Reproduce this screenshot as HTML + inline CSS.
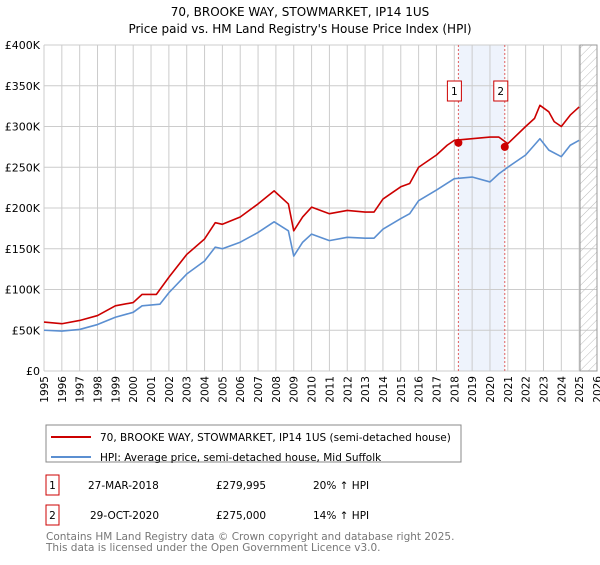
<!DOCTYPE html>
<html><head><meta charset="utf-8">
<style>
body{margin:0;background:#fff;font-family:"Liberation Sans","DejaVu Sans",sans-serif;}
svg text{font-family:"DejaVu Sans","Liberation Sans",sans-serif;}
</style></head>
<body>
<svg id="c" width="600" height="560" xmlns="http://www.w3.org/2000/svg">
<defs><pattern id="hatch" width="6" height="6" patternUnits="userSpaceOnUse" patternTransform="rotate(45)"><line x1="0" y1="0" x2="0" y2="6" stroke="#bbb" stroke-width="1"/></pattern></defs>
<text x="300" y="16" text-anchor="middle" font-size="12">70, BROOKE WAY, STOWMARKET, IP14 1US</text>
<text x="300" y="33" text-anchor="middle" font-size="12">Price paid vs. HM Land Registry's House Price Index (HPI)</text>
<g id="plot"></g>
<rect x="46" y="425" width="415" height="37" fill="#fff" stroke="#888"/>
<line x1="51" y1="437" x2="91" y2="437" stroke="#cc0000" stroke-width="2"/>
<text x="100" y="441" font-size="10.5">70, BROOKE WAY, STOWMARKET, IP14 1US (semi-detached house)</text>
<line x1="51" y1="457" x2="91" y2="457" stroke="#5b8fd1" stroke-width="2"/>
<text x="100" y="461" font-size="10.5">HPI: Average price, semi-detached house, Mid Suffolk</text>
<g>
<rect x="46" y="475" width="13" height="20" fill="#fff" stroke="#cc0000"/>
<text x="52.5" y="489" text-anchor="middle" font-size="10.5">1</text>
<text x="88" y="489" font-size="10.5">27-MAR-2018</text>
<text x="216" y="489" font-size="10.5">£279,995</text>
<text x="313" y="489" font-size="10.5">20% ↑ HPI</text></g>
<g>
<rect x="46" y="505" width="13" height="20" fill="#fff" stroke="#cc0000"/>
<text x="52.5" y="519" text-anchor="middle" font-size="10.5">2</text>
<text x="90" y="519" font-size="10.5">29-OCT-2020</text>
<text x="216" y="519" font-size="10.5">£275,000</text>
<text x="313" y="519" font-size="10.5">14% ↑ HPI</text></g>
<text x="46" y="540" font-size="10.5" fill="#777">Contains HM Land Registry data © Crown copyright and database right 2025.</text>
<text x="46" y="551" font-size="10.5" fill="#777">This data is licensed under the Open Government Licence v3.0.</text>
</svg>
<script>
const priceYears=[1995,1996,1997,1998,1999,2000,2000.5,2001.3,2001.5,2002,2003,2004,2004.6,2005,2006,2007,2007.9,2008.7,2009,2009.5,2010,2011,2012,2013,2013.5,2014,2015,2015.5,2016,2017,2017.6,2018,2019,2020,2020.5,2021,2022,2022.5,2022.8,2023.3,2023.6,2024,2024.5,2025];
const priceValues=[60,58,62,68,80,84,94,94,100,115,143,162,182,180,189,205,221,205,172,189,201,193,197,195,195,211,226,230,250,265,277,283,285,287,287,279,300,310,326,318,306,300,314,324];
const hpiYears=[1995,1996,1997,1998,1999,2000,2000.5,2001.5,2002,2003,2004,2004.6,2005,2006,2007,2007.9,2008.7,2009,2009.5,2010,2011,2012,2013,2013.5,2014,2015,2015.5,2016,2017,2018,2019,2020,2020.5,2021,2022,2022.8,2023.3,2024,2024.5,2025];
const hpiValues=[50,49,51,57,66,72,80,82,96,119,135,152,150,158,170,183,172,141,158,168,160,164,163,163,174,187,193,209,222,236,238,232,242,250,265,285,271,263,277,283];
const saleDates=[2018.23,2020.83];
const saleValues=[279.995,275];
const saleLabels=["1","2"];
const yTicks=[0,50,100,150,200,250,300,350,400];
const yTickLabels=["£0","£50K","£100K","£150K","£200K","£250K","£300K","£350K","£400K"];
const xStart=1995,xEnd=2026,projectionStart=2025.05;

const L=44,R=597,T=45,B=371;
const X=y=>L+(y-xStart)/(xEnd-xStart)*(R-L);
const Y=v=>B-v/400*(B-T);
const NS="http://www.w3.org/2000/svg";
const g=document.getElementById('plot');
function mk(t,a){const e=document.createElementNS(NS,t);for(const k in a)e.setAttribute(k,a[k]);g.appendChild(e);return e;}
let e=mk('rect',{x:L,y:T,width:R-L,height:B-T,fill:'#fff'});


e=mk('rect',{x:X(saleDates[0]),y:T,width:X(saleDates[1])-X(saleDates[0]),height:B-T,fill:'#eef3fc'});


for(let yr=xStart;yr<=xEnd;yr++){
  e=mk('line',{x1:X(yr),x2:X(yr),y1:T,y2:B,stroke:'#ccc','stroke-width':1});
  
  
  e=mk('text',{x:0,y:0,'font-size':'10.5','text-anchor':'end',transform:`translate(${X(yr)+4},${B+5}) rotate(-90)`});
  e.textContent=yr;
  
  
}
yTicks.forEach((v,i)=>{
  e=mk('line',{x1:L,x2:R,y1:Y(v),y2:Y(v),stroke:'#ccc','stroke-width':1});
  
  
  e=mk('text',{x:L-4,y:Y(v)+4,'font-size':'11','text-anchor':'end'});
  e.textContent=yTickLabels[i];
  
  
});
e=mk('rect',{x:X(projectionStart),y:T,width:R-X(projectionStart),height:B-T,fill:'url(#hatch)',stroke:'#999'});


saleDates.forEach((d,i)=>{
  e=mk('line',{x1:X(d),x2:X(d),y1:T,y2:B,stroke:'#e06060','stroke-dasharray':'2,2','stroke-width':1});
  
  
});
function line(xs,vs,col,name){
  e=mk('polyline',{points:xs.map((x,i)=>X(x)+','+Y(vs[i])).join(' '),fill:'none',stroke:col,'stroke-width':1.6,'stroke-linejoin':'round'});
  
  
}
line(hpiYears,hpiValues,'#5b8fd1','hpi-line');
line(priceYears,priceValues,'#cc0000','price-line');
saleDates.forEach((d,i)=>{
  e=mk('circle',{cx:X(d),cy:Y(saleValues[i]),r:4,fill:'#cc0000'});
  
  
  e=mk('rect',{x:X(d)-11,y:81,width:14,height:20,fill:'#fff',stroke:'#cc0000'});
  
  
  e=mk('text',{x:X(d)-4,y:95,'font-size':'10.5','text-anchor':'middle'});
  e.textContent=saleLabels[i];
  
  
});
</script>
</body></html>
